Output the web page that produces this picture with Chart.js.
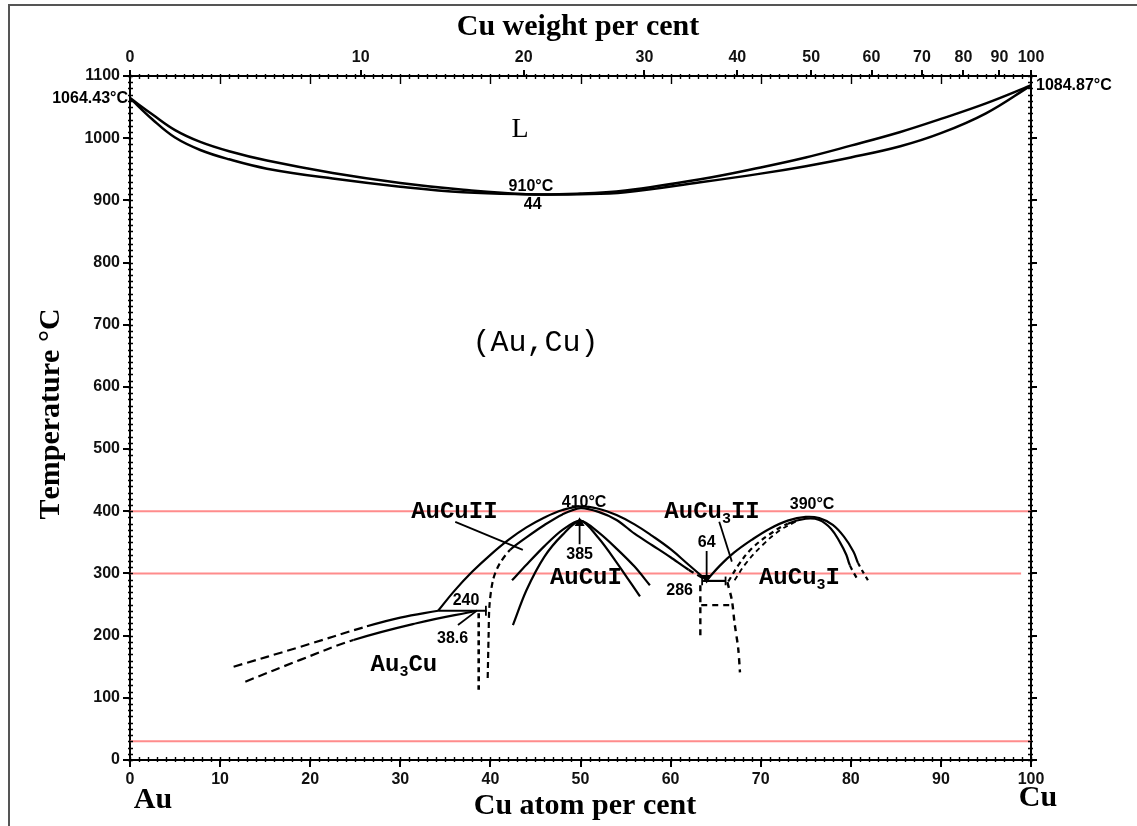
<!DOCTYPE html>
<html>
<head>
<meta charset="utf-8">
<script src="https://cdn.jsdelivr.net/npm/chart.js@4.4.1/dist/chart.umd.min.js"></script>
<style>
body { margin: 0; background: #fff; }
#wrap { position: relative; width: 1137px; height: 826px; overflow: hidden; }
#frame { position: absolute; left: 8px; top: 4px; width: 1150px; height: 850px; border: 2px solid #555; box-sizing: border-box; }
canvas { position: absolute; left: 0; top: 0; }
</style>
</head>
<body>
<div id="wrap">
  <div id="frame"></div>
  <canvas id="chart" width="1137" height="826"></canvas>
</div>
<script>
// Top axis: Cu weight per cent, placed at the matching atom per cent
var topTickPos = [0, 25.6, 43.7, 57.1, 67.4, 75.6, 82.3, 87.9, 92.5, 96.5, 100];
var topTickLabels = ['0', '10', '20', '30', '40', '50', '60', '70', '80', '90', '100'];

// Curves, [Cu atom %, temperature °C]
var liquidus = [[0,1064.43],[2.5,1038],[5,1013],[7.8,994],[11,979],[15.2,964],[22.5,944],[30,928],[37,917],[44,910],[50,911],[55,916],[63.3,934],[70,953],[75,969],[80,988],[85.5,1010],[90,1031],[95,1056],[100,1084.87]];
var solidus = [[0,1064.43],[2.5,1030],[5,1001],[7.8,981],[11,966],[15.2,951],[22.5,935],[30,922],[37,913],[44,910],[50,910],[55,913],[63.3,929],[70,943],[75,955],[80,969],[85.5,987],[90,1008],[95,1040],[100,1084.87]];

var au3cuUpper = [[11.5,150],[18.9,182],[26.3,215],[30,229],[34.2,240]];
var au3cuLower = [[12.8,126],[18.9,161],[24.8,193],[31.8,220],[38.5,240]];
var line240 = [[34.2,240],[39.6,240]];
var tick240 = [[39.5,232],[39.5,248]];
var dotted386 = [[38.7,236],[38.7,113]];

var aucu2Outer = [[34.2,240],[36,272],[38,303],[40,330],[42,354],[44,374],[46,390],[48,402],[50,408],[52,404],[54,394],[56,379],[58,360],[60,339],[62,314],[64,289]];
var aucu2Inner = [[39.7,132],[39.8,200],[39.9,249],[40.3,290],[41,315],[42.2,338],[44,358],[46,378],[48,395],[50,405],[52,399],[54,386],[56,364],[58,345],[60,326],[62,306],[64,289]];

var aucu1Outer = [[42.4,289],[44,314],[46,344],[48,370],[50,385],[52,366],[54,340],[56,311],[57.7,281]];
var aucu1Inner = [[42.5,217],[44,273],[46,327],[48,362],[50,385],[52,357],[54,318],[56.6,263]];

var line285 = [[63.6,288],[66.1,288]];
var tick285L = [[63.5,281],[63.5,295]];
var tick285R = [[66.1,281],[66.1,295]];
var boxLeft = [[63.3,281],[63.3,200]];
var boxMid = [[63.4,249],[66.6,249]];
var boxRight = [[66.3,286],[66.8,257],[67.1,220],[67.5,180],[67.7,141]];

var aucu3Outer = [[64,289],[65.5,313],[67,333],[69,354],[71,372],[73,385],[75,391],[76.5,389],[78,378],[79.3,358],[80.3,335],[80.8,317],[81.9,289]];
var aucu3Inner = [[66.4,287],[67.6,315],[69,340],[71,363],[73,380],[75,388],[76.5,386],[77.8,372],[78.8,350],[79.5,330],[79.9,313],[80.8,289]];
var aucu3Dash = [[67.1,289],[68.4,317],[70.3,347],[72.2,370],[74,384]];

// Leader lines and arrows
var leaderAuCu2 = [[36.1,383],[43.6,338]];
var leaderAuCu3 = [[65.4,383],[66.8,319]];
var leader386 = [[36.4,217],[38.4,239]];
var arrow385 = [[49.9,347],[49.9,381]];
var arrow64 = [[64,336],[64,293]];

// Red reference lines
var red400 = [[0,400],[100,400]];
var red300 = [[0,300],[98.9,300]];
var red30 = [[0,30],[100,30]];

// Texts on the plot, [text, Cu atom %, temperature °C, style]
var plotTexts = [
    ['L', 43.3, 1013, 'serif'],
    ['910°C', 44.5, 922, 'num'],
    ['44', 44.7, 893, 'num'],
    ['(Au,Cu)', 45, 670, 'big'],
    ['AuCuII', 36, 399, 'phase'],
    ['410°C', 50.4, 414, 'num'],
    ['385', 49.9, 330, 'num'],
    ['AuCuI', 50.6, 293, 'phase'],
    ['AuCu_3II', 64.6, 399, 'phase'],
    ['64', 64.0, 350, 'num'],
    ['286', 61.0, 273, 'num'],
    ['390°C', 75.7, 411, 'num'],
    ['AuCu_3I', 74.3, 293, 'phase'],
    ['240', 37.3, 257, 'num'],
    ['38.6', 35.8, 196, 'num'],
    ['Au_3Cu', 30.4, 153, 'phase']
];

function toPoints(arr)
{
    return arr.map(p => ({ x: p[0], y: p[1] }));
}

// ranges of segment indexes that are drawn dashed
function dashedRanges(ranges, dash)
{
    return {
        borderDash: function(ctx) {
            for (var i = 0; i < ranges.length; i++)
            {
                if (ctx.p0DataIndex >= ranges[i][0] && ctx.p1DataIndex <= ranges[i][1])
                {
                    return dash;
                }
            }
            return undefined;
        }
    };
}

function curve(arr, extra)
{
    return Object.assign({
        data: toPoints(arr),
        showLine: true,
        borderColor: '#000',
        borderWidth: 2.2,
        pointRadius: 0,
        tension: 0.4,
        fill: false
    }, extra || {});
}

function straight(arr, extra)
{
    return Object.assign({
        data: toPoints(arr),
        showLine: true,
        borderColor: '#000',
        borderWidth: 1.8,
        pointRadius: 0,
        tension: 0,
        fill: false
    }, extra || {});
}

function redLine(arr)
{
    return straight(arr, { borderColor: 'rgba(255, 120, 120, 0.85)', borderWidth: 2 });
}

var arrowHead = { pointRadius: [0, 4], pointStyle: 'triangle', pointBackgroundColor: '#000', pointBorderColor: '#000' };

var datasets = [
    curve(liquidus, { borderWidth: 2.5 }),
    curve(solidus, { borderWidth: 2.5 }),
    curve(au3cuUpper, { segment: dashedRanges([[0, 2]], [9, 5]) }),
    curve(au3cuLower, { segment: dashedRanges([[0, 2]], [9, 5]) }),
    straight(line240, { borderWidth: 2.2 }),
    straight(tick240),
    straight(dotted386, { borderWidth: 2.6, borderDash: [5, 4] }),
    curve(aucu2Outer),
    curve(aucu2Inner, { tension: 0.3, segment: dashedRanges([[0, 5], [15, 16]], [6, 4]) }),
    curve(aucu1Outer, { tension: 0.3 }),
    curve(aucu1Inner, { tension: 0.3 }),
    straight(line285, { borderWidth: 2.2 }),
    straight(tick285L),
    straight(tick285R),
    straight(boxLeft, { borderWidth: 2.4, borderDash: [6, 5] }),
    straight(boxMid, { borderWidth: 2.2, borderDash: [6, 5] }),
    curve(boxRight, { borderWidth: 2.4, borderDash: [6, 5], tension: 0.3 }),
    curve(aucu3Outer, { segment: dashedRanges([[11, 12]], [4, 4]) }),
    curve(aucu3Inner, { segment: dashedRanges([[0, 4], [10, 11]], [5, 4]) }),
    curve(aucu3Dash, { borderWidth: 1.8, borderDash: [5, 4] }),
    straight(leaderAuCu2),
    straight(leaderAuCu3),
    straight(leader386),
    straight(arrow385, Object.assign({ rotation: 0 }, arrowHead)),
    straight(arrow64, Object.assign({ rotation: 180 }, arrowHead)),
    redLine(red400),
    redLine(red300),
    redLine(red30)
];

// draw a string where "_3" is a subscript 3
function drawRich(ctx, str, x, y, size, family, weight, align)
{
    var parts = [];
    for (var i = 0; i < str.length; i++)
    {
        if (str[i] === '_')
        {
            parts.push({ t: str[i + 1], sub: true });
            i++;
        }
        else
        {
            parts.push({ t: str[i], sub: false });
        }
    }
    var mainFont = weight + ' ' + size + 'px ' + family;
    var subFont = weight + ' ' + Math.round(size * 0.62) + 'px ' + family;
    var total = 0;
    parts.forEach(p => {
        ctx.font = p.sub ? subFont : mainFont;
        p.w = ctx.measureText(p.t).width;
        total += p.w;
    });
    var cx = align === 'left' ? x : (align === 'right' ? x - total : x - total / 2);
    ctx.textAlign = 'left';
    ctx.textBaseline = 'middle';
    parts.forEach(p => {
        ctx.font = p.sub ? subFont : mainFont;
        ctx.fillText(p.t, cx, p.sub ? y + size * 0.32 : y);
        cx += p.w;
    });
}

var textPlugin = {
    id: 'plotTexts',
    afterDatasetsDraw(chart)
    {
        var ctx = chart.ctx;
        var xs = chart.scales.x;
        var ys = chart.scales.y;
        ctx.save();
        ctx.fillStyle = '#000';
        plotTexts.forEach(item => {
            var px = xs.getPixelForValue(item[1]);
            var py = ys.getPixelForValue(item[2]);
            if (item[3] === 'num')
            {
                drawRich(ctx, item[0], px, py, 16, '"Liberation Sans"', 'bold', 'center');
            }
            else if (item[3] === 'phase')
            {
                drawRich(ctx, item[0], px, py, 24, '"Liberation Mono"', 'bold', 'center');
            }
            else if (item[3] === 'big')
            {
                drawRich(ctx, item[0], px, py, 30, '"Liberation Mono"', 'normal', 'center');
            }
            else
            {
                drawRich(ctx, item[0], px, py, 28, '"Liberation Serif"', 'normal', 'center');
            }
        });

        // melting points next to the axes
        drawRich(ctx, '1064.43°C', xs.getPixelForValue(0) - 2, ys.getPixelForValue(1064.43), 16, '"Liberation Sans"', 'bold', 'right');
        drawRich(ctx, '1084.87°C', xs.getPixelForValue(100) + 5, ys.getPixelForValue(1084.87), 16, '"Liberation Sans"', 'bold', 'left');

        // axis titles
        var titleFont = '"Liberation Serif"';
        drawRich(ctx, 'Cu weight per cent', 578, 27, 30, titleFont, 'bold', 'center');
        drawRich(ctx, 'Cu atom per cent', 585, 806, 30, titleFont, 'bold', 'center');
        drawRich(ctx, 'Au', 153, 800, 30, titleFont, 'bold', 'center');
        drawRich(ctx, 'Cu', 1038, 798, 30, titleFont, 'bold', 'center');

        ctx.translate(51, 414);
        ctx.rotate(-Math.PI / 2);
        drawRich(ctx, 'Temperature °C', 0, 0, 30, titleFont, 'bold', 'center');
        ctx.restore();
    }
};

// small ticks along all four axes
var minorTickPlugin = {
    id: 'minorTicks',
    afterDraw(chart)
    {
        var ctx = chart.ctx;
        var a = chart.chartArea;
        var xs = chart.scales.x;
        var ys = chart.scales.y;
        ctx.save();
        ctx.strokeStyle = '#000';
        ctx.lineWidth = 1.4;
        ctx.beginPath();
        for (var t = 0; t <= 1100; t += 10)
        {
            var py = Math.round(ys.getPixelForValue(t)) + 0.5;
            ctx.moveTo(a.left - 2, py);
            ctx.lineTo(a.left + 3, py);
            ctx.moveTo(a.right - 3, py);
            ctx.lineTo(a.right + 2, py);
        }
        for (var c = 0; c <= 100; c += 1)
        {
            var px = Math.round(xs.getPixelForValue(c)) + 0.5;
            ctx.moveTo(px, a.bottom + 2);
            ctx.lineTo(px, a.bottom - 3);
            ctx.moveTo(px, a.top - 2);
            ctx.lineTo(px, a.top + 3);
        }
        for (var k = 10; k < 100; k += 10)
        {
            var qx = Math.round(xs.getPixelForValue(k)) + 0.5;
            ctx.moveTo(qx, a.top);
            ctx.lineTo(qx, a.top + 8);
        }
        ctx.stroke();
        ctx.restore();
    }
};

var tickFont = { family: 'Liberation Sans', size: 16, weight: 'bold' };
var axisBorder = { display: true, color: '#000', width: 2 };
var axisGrid = { drawOnChartArea: false, drawTicks: true, tickLength: 7, color: '#000', lineWidth: 2 };

function plainNumber(value)
{
    return String(value);
}

var ctx = document.getElementById('chart').getContext('2d');

const phaseChart = new Chart(ctx, {
    type: 'scatter',
    data: { datasets: datasets },
    plugins: [textPlugin, minorTickPlugin],
    options: {
        responsive: false,
        animation: false,
        devicePixelRatio: 1,
        layout: { padding: 0 },
        plugins: {
            legend: { display: false },
            tooltip: { enabled: false }
        },
        scales: {
            x: {
                type: 'linear',
                position: 'bottom',
                min: 0,
                max: 100,
                ticks: { stepSize: 10, font: tickFont, color: '#111', padding: 3, maxRotation: 0, callback: plainNumber },
                grid: axisGrid,
                border: axisBorder,
                afterFit: function(s) { s.height = 66; }
            },
            x2: {
                type: 'linear',
                position: 'top',
                min: 0,
                max: 100,
                afterBuildTicks: function(s) {
                    s.ticks = topTickPos.map(v => ({ value: v }));
                },
                ticks: {
                    font: tickFont,
                    color: '#111',
                    padding: 3,
                    autoSkip: false,
                    maxRotation: 0,
                    callback: function(value, index) { return topTickLabels[index]; }
                },
                grid: Object.assign({}, axisGrid, { tickLength: 6 }),
                border: axisBorder,
                afterFit: function(s) { s.height = 76; }
            },
            y: {
                type: 'linear',
                position: 'left',
                min: 0,
                max: 1100,
                ticks: { stepSize: 100, font: tickFont, color: '#111', padding: 3, callback: plainNumber },
                grid: axisGrid,
                border: axisBorder,
                afterFit: function(s) { s.width = 130; }
            },
            y2: {
                type: 'linear',
                position: 'right',
                min: 0,
                max: 1100,
                ticks: { stepSize: 100, display: false },
                grid: Object.assign({}, axisGrid, { tickLength: 6 }),
                border: axisBorder,
                afterFit: function(s) { s.width = 106; }
            }
        }
    }
});
</script>
</body>
</html>
